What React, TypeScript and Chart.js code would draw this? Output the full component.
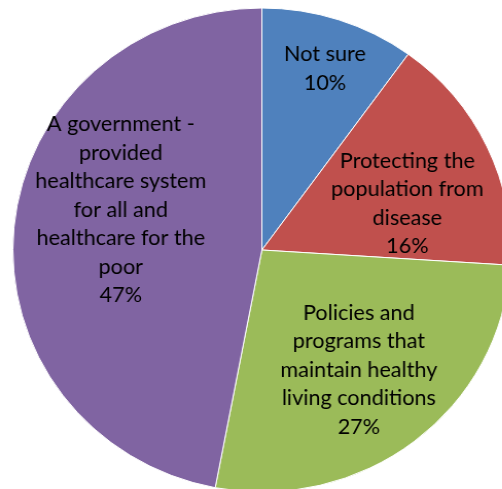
import React, { useEffect, useRef } from "react";
import { Chart, registerables } from "chart.js";

Chart.register(...registerables);

const categories = [
  "Not sure",
  "Protecting the\npopulation from\ndisease",
  "Policies and\nprograms that\nmaintain healthy\nliving conditions",
  "A government -\nprovided\nhealthcare system\nfor all and\nhealthcare for the\npoor",
];
const values = [10, 16, 27, 47];
const percentLabels = ["10%", "16%", "27%", "47%"];
const colors = ["#4F81BD", "#C0504D", "#9BBB59", "#8064A2"];

// label placement: angle (deg, clockwise from top) and radius fraction
const labelPlacement = [
  { angle: 18.7, r: 0.79 },
  { angle: 71.8, r: 0.615 },
  { angle: 141.8, r: 0.63 },
  { angle: 286.2, r: 0.59 },
];

const STRETCH_X = 249 / 242;
const FONT = "21px Lato";
const LINE_H = 28.5;

const labelPlugin = {
  id: "sliceLabels",
  afterDatasetsDraw(chart: any) {
    const meta = chart.getDatasetMeta(0);
    const ctx = chart.ctx;
    ctx.save();
    ctx.font = FONT;
    ctx.fillStyle = "#000";
    ctx.textAlign = "center";
    ctx.textBaseline = "middle";
    meta.data.forEach((arc: any, i: number) => {
      const { x, y, outerRadius } = arc.getProps(["x", "y", "outerRadius"], true);
      const p = labelPlacement[i];
      const a = (p.angle * Math.PI) / 180;
      const cx = x + Math.sin(a) * outerRadius * p.r;
      const cy = y - Math.cos(a) * outerRadius * p.r;
      const lines = categories[i].split("\n").concat([percentLabels[i]]);
      const top = cy - ((lines.length - 1) * LINE_H) / 2;
      lines.forEach((ln, j) => ctx.fillText(ln, cx, top + j * LINE_H));
    });
    ctx.restore();
  },
};

export default function App() {
  const ref = useRef<HTMLCanvasElement>(null);
  useEffect(() => {
    if (!ref.current) return;
    const chart = new Chart(ref.current, {
      type: "pie",
      data: {
        labels: categories,
        datasets: [
          {
            data: values,
            backgroundColor: colors,
            borderColor: "#ffffff",
            borderWidth: 1,
            radius: 242,
          } as any,
        ],
      },
      options: {
        responsive: false,
        animation: false,
        layout: { padding: 0 },
        plugins: {
          legend: { display: false },
          tooltip: { enabled: false },
        },
      },
      plugins: [labelPlugin],
    });
    return () => chart.destroy();
  }, []);
  return (
    <div
      style={{
        position: "fixed",
        left: 0,
        top: 0,
        width: 502,
        height: 489,
        overflow: "hidden",
        background: "#fff",
      }}
    >
      <canvas
        ref={ref}
        width={509}
        height={500}
        style={{
          width: 509,
          height: 500,
          display: "block",
          transform: `scaleX(${STRETCH_X})`,
          transformOrigin: "0 0",
        }}
      />
    </div>
  );
}
